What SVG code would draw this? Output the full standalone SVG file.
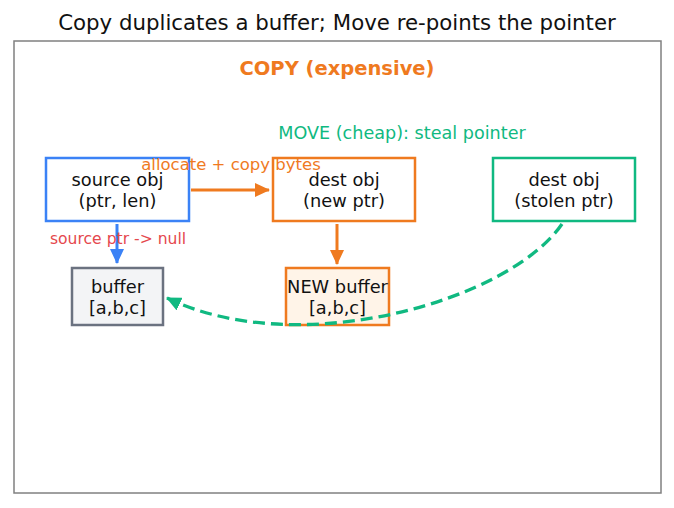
<svg xmlns="http://www.w3.org/2000/svg" width="674" height="508" viewBox="0 0 674 508">
<style>
text{font-family:"DejaVu Sans","Liberation Sans",sans-serif;text-anchor:middle}
.lbl{font-size:17.8px;fill:#111}
.box{stroke-width:2.5}
</style>
<defs>
<marker id="aO" markerUnits="userSpaceOnUse" markerWidth="15" markerHeight="14" refX="14" refY="7" orient="auto"><path d="M0,0 L15,7 L0,14 Z" fill="#ef7a1f"/></marker>
<marker id="aB" markerUnits="userSpaceOnUse" markerWidth="15" markerHeight="14" refX="14" refY="7" orient="auto"><path d="M0,0 L15,7 L0,14 Z" fill="#3b82f6"/></marker>
<marker id="aG" markerUnits="userSpaceOnUse" markerWidth="15" markerHeight="14" refX="14" refY="7" orient="auto"><path d="M0,0 L15,7 L0,14 Z" fill="#10b981"/></marker>
</defs>
<rect width="674" height="508" fill="#fff"/>
<text x="337" y="30" style="font-size:21.3px;fill:#111">Copy duplicates a buffer; Move re-points the pointer</text>
<rect x="14" y="41" width="647" height="452" fill="none" stroke="#808080" stroke-width="1.5"/>
<text x="337" y="75" style="font-size:19.5px;font-weight:bold;fill:#ef7a1f">COPY (expensive)</text>
<text x="402" y="139" style="font-size:17.6px;fill:#10b981">MOVE (cheap): steal pointer</text>
<g id="source">
<rect class="box" x="46" y="158" width="143" height="63" fill="#fff" stroke="#3b82f6"/>
<text class="lbl" x="117.5" y="186">source obj</text>
<text class="lbl" x="117.5" y="207">(ptr, len)</text>
</g>
<g id="dest-copy">
<rect class="box" x="273" y="158" width="142" height="63" fill="#fff" stroke="#ef7a1f"/>
<text class="lbl" x="344" y="186">dest obj</text>
<text class="lbl" x="344" y="207">(new ptr)</text>
</g>
<g id="dest-move">
<rect class="box" x="493" y="158" width="142" height="63" fill="#fff" stroke="#10b981"/>
<text class="lbl" x="564" y="186">dest obj</text>
<text class="lbl" x="564" y="207">(stolen ptr)</text>
</g>
<g id="buffer">
<rect class="box" x="72" y="268" width="91" height="57" fill="#f3f4f6" stroke="#6b7280"/>
<text class="lbl" x="117.5" y="293">buffer</text>
<text class="lbl" x="117.5" y="314">[a,b,c]</text>
</g>
<g id="new-buffer">
<rect class="box" x="286" y="268" width="103" height="57" fill="#fff4e8" stroke="#ef7a1f"/>
<text class="lbl" x="337.5" y="293">NEW buffer</text>
<text class="lbl" x="337.5" y="314">[a,b,c]</text>
</g>
<g id="connectors" fill="none" stroke-width="3">
<path d="M191,190 L269,190" stroke="#ef7a1f" marker-end="url(#aO)"/>
<path d="M117,224 L117,263" stroke="#3b82f6" marker-end="url(#aB)"/>
<path d="M337,224 L337,264" stroke="#ef7a1f" marker-end="url(#aO)"/>
<path d="M562,224 C510,300 300,362 167,298" stroke="#10b981" stroke-width="3.3" stroke-dasharray="12,6" marker-end="url(#aG)"/>
<text x="231" y="170" style="font-size:16.5px;fill:#ef7a1f;stroke:none">allocate + copy bytes</text>
<text x="118" y="244" style="font-size:15.6px;fill:#e5484d;stroke:none">source ptr -&gt; null</text>
</g>
</svg>
